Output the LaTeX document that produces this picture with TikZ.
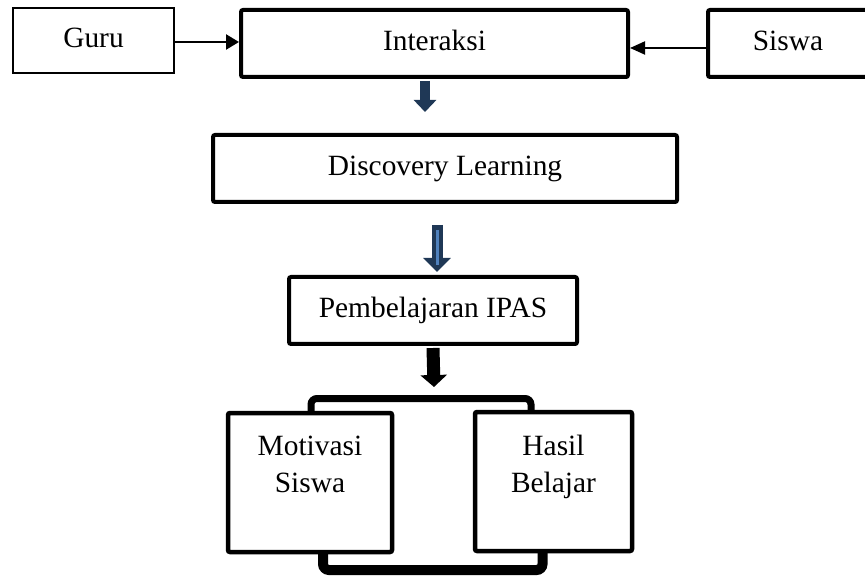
\documentclass[tikz,border=0pt]{standalone}
\usepackage{fontspec}
\setmainfont{Liberation Serif}
\usetikzlibrary{arrows.meta,backgrounds}
\definecolor{navy}{RGB}{31,56,86}
\definecolor{stripe}{RGB}{79,129,189}
\begin{document}
\begin{tikzpicture}[x=0.5pt,y=-0.5pt,
  box/.style={draw,fill=white,line width=2pt,rounded corners=1pt,inner sep=0pt,
    minimum height=33.5pt,text height=9.5pt,text depth=2.5pt,
    font=\fontsize{14.7pt}{18.5pt}\selectfont},
  thinbox/.style={box,line width=1.25pt,sharp corners},
  tallbox/.style={box,line width=2.25pt,minimum height=69.5pt},
  txt/.style={inner sep=0pt,align=center,font=\fontsize{14.7pt}{18.5pt}\selectfont},
  thinarrow/.style={line width=1.2pt,-{Triangle[width=7.5pt,length=6.5pt]}},
  block/.style={line width=5pt,-{Triangle[width=11pt,length=6pt]}},
  bracket/.style={line width=3.5pt,rounded corners=3pt}]
\useasboundingbox (0,0) rectangle (865,576);
%%boxes
\node[thinbox,minimum width=80.5pt,minimum height=32.5pt] (guru) at (93.5,40.5) {Guru};
\node[box,minimum width=193.5pt] (interaksi) at (434.5,43.5) {Interaksi};
\node[box,minimum width=80pt] (siswa) at (788,43.5) {Siswa};
\node[box,minimum width=232pt] (discovery) at (445,168.5) {Discovery Learning};
\node[box,minimum width=144pt] (ipas) at (433,310.5) {Pembelajaran IPAS};
\node[tallbox,minimum width=82pt] (motivasi) at (310,482.5) {};
\node[tallbox,minimum width=78.5pt] (hasil) at (553.5,481.5) {};
\node[txt,anchor=north] (motivasitxt) at ([yshift=-12.25pt]motivasi.north) {Motivasi\\Siswa};
\node[txt,anchor=north] (hasiltxt) at ([yshift=-12.25pt]hasil.north) {Hasil\\Belajar};

%%arrows
\draw[thinarrow] ([yshift=-0.75pt]guru.east) -- ([yshift=-0.75pt]guru.east -| interaksi.west);
\draw[thinarrow,line width=1pt,-{Triangle[width=6.5pt,length=7.5pt]}]
  ([yshift=-2.25pt]siswa.west) -- ([yshift=-2.25pt]siswa.west -| interaksi.east);
\coordinate (a1) at (425,112);
\draw[block,navy] ([xshift=-4.75pt,yshift=-1pt]interaksi.south) -- (a1);
\coordinate (a2top) at (437,225);
\coordinate (a2tip) at (437,272);
\draw[block,navy,line width=5.5pt,-{Triangle[width=13.5pt,length=7pt]}] (a2top) -- (a2tip);
\draw[stripe,line width=1.5pt] ([yshift=-2.5pt]a2top) -- ([yshift=3.5pt]a2tip);
\coordinate (a3) at (434,387);
\draw[block,line width=6.5pt,-{Triangle[width=13pt,length=6pt]}] ([yshift=-1pt]ipas.south) -- (a3);

%%bracket
\coordinate (tl) at (311,420);
\coordinate (tr) at (531,420);
\coordinate (bl) at (323,545);
\coordinate (br) at (542.5,545);
\begin{scope}[on background layer]
\draw[bracket] (tl) -- ++(0,-21.5) -| (tr);
\draw[bracket,line width=5pt] (bl) -- ++(0,25) -| (br);
\end{scope}
\end{tikzpicture}
\end{document}
